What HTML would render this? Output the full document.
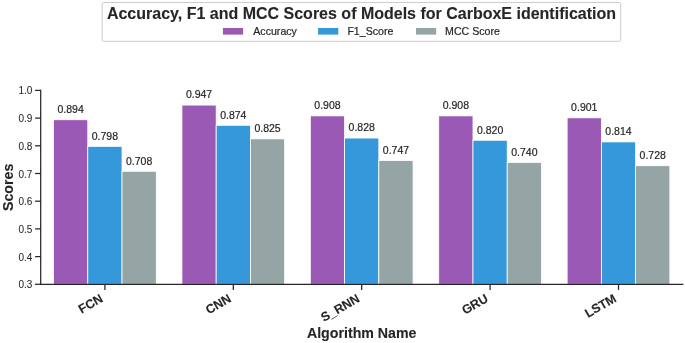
<!DOCTYPE html>
<html><head><meta charset="utf-8"><style>
html,body{margin:0;padding:0;background:#fff;width:685px;height:343px;overflow:hidden}
svg{display:block;will-change:transform}
text{font-family:"Liberation Sans",sans-serif}
</style></head><body>
<svg width="685" height="343" viewBox="0 0 685 343">
<rect width="685" height="343" fill="#ffffff"/>
<rect x="53.54" y="119.76" width="34.24" height="164.54" fill="#9b59b6" stroke="#ffffff" stroke-width="0.8"/>
<rect x="181.94" y="105.08" width="34.24" height="179.22" fill="#9b59b6" stroke="#ffffff" stroke-width="0.8"/>
<rect x="310.34" y="115.88" width="34.24" height="168.42" fill="#9b59b6" stroke="#ffffff" stroke-width="0.8"/>
<rect x="438.74" y="115.88" width="34.24" height="168.42" fill="#9b59b6" stroke="#ffffff" stroke-width="0.8"/>
<rect x="567.14" y="117.82" width="34.24" height="166.48" fill="#9b59b6" stroke="#ffffff" stroke-width="0.8"/>
<rect x="87.78" y="146.35" width="34.24" height="137.95" fill="#3498db" stroke="#ffffff" stroke-width="0.8"/>
<rect x="216.18" y="125.30" width="34.24" height="159.00" fill="#3498db" stroke="#ffffff" stroke-width="0.8"/>
<rect x="344.58" y="138.04" width="34.24" height="146.26" fill="#3498db" stroke="#ffffff" stroke-width="0.8"/>
<rect x="472.98" y="140.26" width="34.24" height="144.04" fill="#3498db" stroke="#ffffff" stroke-width="0.8"/>
<rect x="601.38" y="141.92" width="34.24" height="142.38" fill="#3498db" stroke="#ffffff" stroke-width="0.8"/>
<rect x="122.02" y="171.28" width="34.24" height="113.02" fill="#95a5a6" stroke="#ffffff" stroke-width="0.8"/>
<rect x="250.42" y="138.88" width="34.24" height="145.42" fill="#95a5a6" stroke="#ffffff" stroke-width="0.8"/>
<rect x="378.82" y="160.48" width="34.24" height="123.82" fill="#95a5a6" stroke="#ffffff" stroke-width="0.8"/>
<rect x="507.22" y="162.42" width="34.24" height="121.88" fill="#95a5a6" stroke="#ffffff" stroke-width="0.8"/>
<rect x="635.62" y="165.74" width="34.24" height="118.56" fill="#95a5a6" stroke="#ffffff" stroke-width="0.8"/>
<text transform="translate(70.66,113.16) rotate(0.0)" x="0" y="0" font-size="10.5" fill="#262626" stroke="#262626" stroke-width="0.2" text-anchor="middle">0.894</text>
<text transform="translate(199.06,98.48) rotate(0.0)" x="0" y="0" font-size="10.5" fill="#262626" stroke="#262626" stroke-width="0.2" text-anchor="middle">0.947</text>
<text transform="translate(327.46,109.28) rotate(0.0)" x="0" y="0" font-size="10.5" fill="#262626" stroke="#262626" stroke-width="0.2" text-anchor="middle">0.908</text>
<text transform="translate(455.86,109.28) rotate(0.0)" x="0" y="0" font-size="10.5" fill="#262626" stroke="#262626" stroke-width="0.2" text-anchor="middle">0.908</text>
<text transform="translate(584.26,111.22) rotate(0.0)" x="0" y="0" font-size="10.5" fill="#262626" stroke="#262626" stroke-width="0.2" text-anchor="middle">0.901</text>
<text transform="translate(104.90,139.75) rotate(0.0)" x="0" y="0" font-size="10.5" fill="#262626" stroke="#262626" stroke-width="0.2" text-anchor="middle">0.798</text>
<text transform="translate(233.30,118.70) rotate(0.0)" x="0" y="0" font-size="10.5" fill="#262626" stroke="#262626" stroke-width="0.2" text-anchor="middle">0.874</text>
<text transform="translate(361.70,131.44) rotate(0.0)" x="0" y="0" font-size="10.5" fill="#262626" stroke="#262626" stroke-width="0.2" text-anchor="middle">0.828</text>
<text transform="translate(490.10,133.66) rotate(0.0)" x="0" y="0" font-size="10.5" fill="#262626" stroke="#262626" stroke-width="0.2" text-anchor="middle">0.820</text>
<text transform="translate(618.50,135.32) rotate(0.0)" x="0" y="0" font-size="10.5" fill="#262626" stroke="#262626" stroke-width="0.2" text-anchor="middle">0.814</text>
<text transform="translate(139.14,164.68) rotate(0.0)" x="0" y="0" font-size="10.5" fill="#262626" stroke="#262626" stroke-width="0.2" text-anchor="middle">0.708</text>
<text transform="translate(267.54,132.28) rotate(0.0)" x="0" y="0" font-size="10.5" fill="#262626" stroke="#262626" stroke-width="0.2" text-anchor="middle">0.825</text>
<text transform="translate(395.94,153.88) rotate(0.0)" x="0" y="0" font-size="10.5" fill="#262626" stroke="#262626" stroke-width="0.2" text-anchor="middle">0.747</text>
<text transform="translate(524.34,155.82) rotate(0.0)" x="0" y="0" font-size="10.5" fill="#262626" stroke="#262626" stroke-width="0.2" text-anchor="middle">0.740</text>
<text transform="translate(652.74,159.14) rotate(0.0)" x="0" y="0" font-size="10.5" fill="#262626" stroke="#262626" stroke-width="0.2" text-anchor="middle">0.728</text>
<line x1="40.70" y1="90.40" x2="40.70" y2="284.30" stroke="#262626" stroke-width="1.25" stroke-linecap="square"/>
<line x1="40.70" y1="284.45" x2="682.70" y2="284.45" stroke="#262626" stroke-width="1.25" stroke-linecap="square"/>
<line x1="35.10" y1="284.30" x2="40.70" y2="284.30" stroke="#262626" stroke-width="1.25"/>
<text transform="translate(32.40,288.30) rotate(0.0)" x="0" y="0" font-size="10.0" fill="#262626" stroke="#262626" stroke-width="0.05" text-anchor="end">0.3</text>
<line x1="35.10" y1="256.60" x2="40.70" y2="256.60" stroke="#262626" stroke-width="1.25"/>
<text transform="translate(32.40,260.60) rotate(0.0)" x="0" y="0" font-size="10.0" fill="#262626" stroke="#262626" stroke-width="0.05" text-anchor="end">0.4</text>
<line x1="35.10" y1="228.90" x2="40.70" y2="228.90" stroke="#262626" stroke-width="1.25"/>
<text transform="translate(32.40,232.90) rotate(0.0)" x="0" y="0" font-size="10.0" fill="#262626" stroke="#262626" stroke-width="0.05" text-anchor="end">0.5</text>
<line x1="35.10" y1="201.20" x2="40.70" y2="201.20" stroke="#262626" stroke-width="1.25"/>
<text transform="translate(32.40,205.20) rotate(0.0)" x="0" y="0" font-size="10.0" fill="#262626" stroke="#262626" stroke-width="0.05" text-anchor="end">0.6</text>
<line x1="35.10" y1="173.50" x2="40.70" y2="173.50" stroke="#262626" stroke-width="1.25"/>
<text transform="translate(32.40,177.50) rotate(0.0)" x="0" y="0" font-size="10.0" fill="#262626" stroke="#262626" stroke-width="0.05" text-anchor="end">0.7</text>
<line x1="35.10" y1="145.80" x2="40.70" y2="145.80" stroke="#262626" stroke-width="1.25"/>
<text transform="translate(32.40,149.80) rotate(0.0)" x="0" y="0" font-size="10.0" fill="#262626" stroke="#262626" stroke-width="0.05" text-anchor="end">0.8</text>
<line x1="35.10" y1="118.10" x2="40.70" y2="118.10" stroke="#262626" stroke-width="1.25"/>
<text transform="translate(32.40,122.10) rotate(0.0)" x="0" y="0" font-size="10.0" fill="#262626" stroke="#262626" stroke-width="0.05" text-anchor="end">0.9</text>
<line x1="35.10" y1="90.40" x2="40.70" y2="90.40" stroke="#262626" stroke-width="1.25"/>
<text transform="translate(32.40,94.40) rotate(0.0)" x="0" y="0" font-size="10.0" fill="#262626" stroke="#262626" stroke-width="0.05" text-anchor="end">1.0</text>
<line x1="104.90" y1="284.30" x2="104.90" y2="289.90" stroke="#262626" stroke-width="1.25"/>
<text transform="translate(99.40,293.30) rotate(-30)" x="0" y="0" font-size="12.5" font-weight="bold" fill="#262626" stroke="#262626" stroke-width="0.1" text-anchor="end" dominant-baseline="hanging">FCN</text>
<line x1="233.30" y1="284.30" x2="233.30" y2="289.90" stroke="#262626" stroke-width="1.25"/>
<text transform="translate(227.80,293.30) rotate(-30)" x="0" y="0" font-size="12.5" font-weight="bold" fill="#262626" stroke="#262626" stroke-width="0.1" text-anchor="end" dominant-baseline="hanging">CNN</text>
<line x1="361.70" y1="284.30" x2="361.70" y2="289.90" stroke="#262626" stroke-width="1.25"/>
<text transform="translate(356.20,293.30) rotate(-30)" x="0" y="0" font-size="12.5" font-weight="bold" fill="#262626" stroke="#262626" stroke-width="0.1" text-anchor="end" dominant-baseline="hanging">S_RNN</text>
<line x1="490.10" y1="284.30" x2="490.10" y2="289.90" stroke="#262626" stroke-width="1.25"/>
<text transform="translate(484.60,293.30) rotate(-30)" x="0" y="0" font-size="12.5" font-weight="bold" fill="#262626" stroke="#262626" stroke-width="0.1" text-anchor="end" dominant-baseline="hanging">GRU</text>
<line x1="618.50" y1="284.30" x2="618.50" y2="289.90" stroke="#262626" stroke-width="1.25"/>
<text transform="translate(613.00,293.30) rotate(-30)" x="0" y="0" font-size="12.5" font-weight="bold" fill="#262626" stroke="#262626" stroke-width="0.1" text-anchor="end" dominant-baseline="hanging">LSTM</text>
<text transform="translate(361.70,337.70) rotate(0.0)" x="0" y="0" font-size="14.2" font-weight="bold" fill="#262626" stroke="#262626" stroke-width="0.1" text-anchor="middle">Algorithm Name</text>
<text transform="translate(12.90,187.35) rotate(-90)" x="0" y="0" font-size="14.2" font-weight="bold" fill="#262626" stroke="#262626" stroke-width="0.1" text-anchor="middle">Scores</text>
<rect x="102.2" y="2.5" width="518.5" height="38.8" rx="1.3" ry="1.3" fill="#ffffff" stroke="#cccccc" stroke-width="1"/>
<text transform="translate(106.90,18.50) rotate(0.0)" x="0" y="0" font-size="16" font-weight="bold" fill="#262626" stroke="#262626" stroke-width="0.1" text-anchor="start">Accuracy, F1 and MCC Scores of Models for CarboxE identification</text>
<rect x="222.90" y="28.0" width="20.2" height="6.6" fill="#9b59b6"/>
<text transform="translate(253.30,34.60) rotate(0.0)" x="0" y="0" font-size="10.6" fill="#262626" stroke="#262626" stroke-width="0.2" text-anchor="start">Accuracy</text>
<rect x="318.10" y="28.0" width="20.2" height="6.6" fill="#3498db"/>
<text transform="translate(347.40,34.60) rotate(0.0)" x="0" y="0" font-size="10.6" fill="#262626" stroke="#262626" stroke-width="0.2" text-anchor="start">F1_Score</text>
<rect x="416.00" y="28.0" width="20.2" height="6.6" fill="#95a5a6"/>
<text transform="translate(445.10,34.60) rotate(0.0)" x="0" y="0" font-size="10.6" fill="#262626" stroke="#262626" stroke-width="0.2" text-anchor="start">MCC Score</text>
</svg>
</body></html>
